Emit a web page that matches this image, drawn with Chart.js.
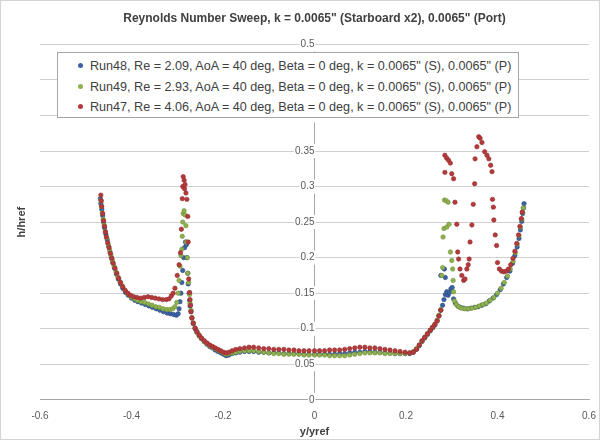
<!DOCTYPE html>
<html lang="en">
<head>
<meta charset="UTF-8">
<title>Reynolds Number Sweep</title>
<script src="https://cdn.jsdelivr.net/npm/chart.js@4.4.0/dist/chart.umd.min.js"></script>
<style>
    body { margin: 0; background: #fff; font-family: 'Liberation Sans', Arial, sans-serif; }
    .wrap { position: relative; width: 600px; height: 440px; box-sizing: border-box; border: 1px solid #d4d4d4; }
    #legendBox {
        position: absolute; left: 56px; top: 51px; width: 462px; height: 66px;
        box-sizing: border-box; border: 1px solid #a6a6a6; background: #fff;
        padding: 3px 0 0 20px; font-size: 12.6px; color: #404040;
    }
    #legendBox .item { height: 20.5px; line-height: 20px; white-space: nowrap; }
    #legendBox .dot { display: inline-block; width: 5px; height: 5px; border-radius: 50%; margin-right: 7px; vertical-align: 2px; }
</style>
</head>
<body>
<div class="wrap">
    <canvas id="chart" width="598" height="438"></canvas>
    <div id="legendBox"></div>
</div>
<script>
// axis ticks
const xTicks = [-0.6, -0.4, -0.2, 0, 0.2, 0.4, 0.6];
const yTicks = [0, 0.05, 0.1, 0.15, 0.2, 0.25, 0.3, 0.35, 0.4, 0.45, 0.5];

const seriesLabels = [
    'Run48, Re = 2.09, AoA = 40 deg, Beta = 0 deg, k = 0.0065" (S), 0.0065" (P)',
    'Run49, Re = 2.93, AoA = 40 deg, Beta = 0 deg, k = 0.0065" (S), 0.0065" (P)',
    'Run47, Re = 4.06, AoA = 40 deg, Beta = 0 deg, k = 0.0065" (S), 0.0065" (P)'
];

// Run48 (y/yref, h/href)
const run48 = [
    [-0.468,0.283],[-0.467,0.276],[-0.465,0.268],[-0.463,0.259],[-0.461,0.250],[-0.459,0.242],[-0.456,0.233],[-0.453,0.225],
    [-0.450,0.216],[-0.447,0.208],[-0.444,0.200],[-0.441,0.193],[-0.437,0.185],[-0.433,0.177],[-0.429,0.170],[-0.424,0.163],
    [-0.419,0.157],[-0.413,0.151],[-0.407,0.147],[-0.400,0.143],[-0.393,0.140],[-0.386,0.138],[-0.378,0.136],[-0.370,0.134],
    [-0.362,0.132],[-0.354,0.130],[-0.346,0.128],[-0.338,0.126],[-0.330,0.124],[-0.322,0.122],[-0.315,0.121],[-0.308,0.120],
    [-0.302,0.119],[-0.298,0.121],[-0.296,0.128],[-0.294,0.138],[-0.292,0.150],[-0.290,0.165],[-0.288,0.182],[-0.286,0.200],
    [-0.284,0.214],[-0.282,0.222],[-0.280,0.218],[-0.279,0.200],[-0.277,0.178],[-0.276,0.163],[-0.274,0.150],[-0.273,0.140],
    [-0.272,0.132],[-0.270,0.124],[-0.268,0.115],[-0.265,0.107],[-0.261,0.100],[-0.257,0.095],[-0.252,0.090],[-0.247,0.086],
    [-0.241,0.082],[-0.235,0.078],[-0.229,0.075],[-0.223,0.073],[-0.217,0.070],[-0.211,0.068],[-0.205,0.066],[-0.199,0.064],
    [-0.193,0.062],[-0.187,0.063],[-0.180,0.065],[-0.172,0.066],[-0.163,0.067],[-0.153,0.068],[-0.143,0.068],[-0.133,0.068],
    [-0.122,0.067],[-0.111,0.067],[-0.100,0.066],[-0.089,0.066],[-0.078,0.066],[-0.067,0.065],[-0.056,0.065],[-0.045,0.065],
    [-0.034,0.065],[-0.023,0.064],[-0.012,0.064],[0.000,0.064],[0.011,0.064],[0.022,0.064],[0.033,0.064],[0.044,0.064],
    [0.055,0.065],[0.066,0.065],[0.077,0.066],[0.088,0.067],[0.099,0.067],[0.110,0.068],[0.121,0.068],[0.132,0.067],
    [0.143,0.067],[0.154,0.066],[0.165,0.066],[0.176,0.065],[0.187,0.065],[0.198,0.065],[0.208,0.065],[0.216,0.067],
    [0.223,0.071],[0.229,0.076],[0.235,0.082],[0.241,0.087],[0.247,0.092],[0.253,0.097],[0.258,0.101],[0.263,0.105],
    [0.268,0.111],[0.272,0.118],[0.276,0.126],[0.280,0.133],[0.283,0.141],[0.286,0.148],[0.289,0.152],[0.292,0.147],
    [0.295,0.151],[0.298,0.156],[0.301,0.158],[0.276,0.175],[0.284,0.184],[0.286,0.172],
    [0.304,0.142],[0.308,0.136],[0.313,0.132],[0.319,0.130],[0.326,0.129],[0.334,0.128],[0.342,0.129],[0.350,0.130],
    [0.358,0.131],[0.366,0.133],[0.374,0.135],[0.382,0.139],[0.390,0.143],[0.398,0.148],[0.406,0.155],[0.413,0.163],
    [0.420,0.172],[0.427,0.181],[0.433,0.192],[0.438,0.203],[0.443,0.215],[0.447,0.227],[0.450,0.239],[0.453,0.251],
    [0.455,0.262],[0.457,0.270],[0.458,0.276]
];

// Run49
const run49 = [
    [-0.467,0.280],[-0.466,0.272],[-0.464,0.263],[-0.462,0.254],[-0.460,0.246],[-0.457,0.237],[-0.454,0.228],[-0.451,0.219],
    [-0.448,0.211],[-0.445,0.203],[-0.442,0.196],[-0.438,0.188],[-0.434,0.180],[-0.430,0.173],[-0.425,0.166],[-0.420,0.160],
    [-0.414,0.154],[-0.408,0.149],[-0.401,0.145],[-0.394,0.142],[-0.387,0.140],[-0.379,0.138],[-0.371,0.137],[-0.363,0.135],
    [-0.355,0.133],[-0.347,0.131],[-0.339,0.130],[-0.331,0.128],[-0.323,0.127],[-0.316,0.127],[-0.310,0.128],[-0.305,0.131],
    [-0.301,0.137],[-0.298,0.150],[-0.296,0.168],[-0.294,0.188],[-0.292,0.203],[-0.290,0.212],[-0.289,0.230],[-0.288,0.250],
    [-0.287,0.262],[-0.285,0.266],[-0.283,0.260],[-0.281,0.245],[-0.280,0.222],[-0.278,0.200],[-0.277,0.178],[-0.275,0.165],
    [-0.273,0.148],[-0.272,0.136],[-0.270,0.126],[-0.268,0.116],[-0.265,0.108],[-0.261,0.101],[-0.257,0.095],[-0.252,0.090],
    [-0.247,0.086],[-0.241,0.082],[-0.235,0.079],[-0.229,0.076],[-0.223,0.074],[-0.217,0.072],[-0.211,0.070],[-0.205,0.068],
    [-0.199,0.066],[-0.193,0.064],[-0.187,0.065],[-0.180,0.066],[-0.172,0.067],[-0.163,0.068],[-0.153,0.069],[-0.143,0.069],
    [-0.133,0.069],[-0.122,0.068],[-0.111,0.067],[-0.100,0.066],[-0.089,0.065],[-0.078,0.065],[-0.067,0.064],[-0.056,0.064],
    [-0.045,0.064],[-0.034,0.064],[-0.023,0.063],[-0.012,0.063],[0.000,0.063],[0.011,0.063],[0.022,0.063],[0.033,0.062],
    [0.044,0.062],[0.055,0.062],[0.066,0.062],[0.077,0.063],[0.088,0.064],[0.099,0.065],[0.110,0.066],[0.121,0.066],
    [0.132,0.066],[0.143,0.066],[0.154,0.065],[0.165,0.065],[0.176,0.065],[0.187,0.065],[0.198,0.065],[0.208,0.066],
    [0.216,0.068],[0.223,0.072],[0.229,0.077],[0.235,0.083],[0.241,0.088],[0.247,0.093],[0.253,0.098],[0.258,0.102],
    [0.263,0.106],[0.268,0.112],[0.272,0.119],[0.276,0.127],[0.278,0.175],[0.280,0.186],[0.281,0.229],[0.283,0.241],
    [0.284,0.281],[0.288,0.280],[0.292,0.278],[0.289,0.243],[0.294,0.247],[0.297,0.208],[0.300,0.196],[0.302,0.184],
    [0.303,0.168],[0.304,0.152],[0.306,0.139],[0.310,0.134],[0.315,0.131],[0.321,0.129],[0.328,0.128],[0.336,0.128],
    [0.344,0.129],[0.352,0.130],[0.360,0.132],[0.368,0.134],[0.376,0.136],[0.384,0.140],[0.392,0.144],[0.400,0.150],
    [0.408,0.157],[0.415,0.165],[0.422,0.174],[0.428,0.184],[0.434,0.195],[0.439,0.207],[0.443,0.219],[0.447,0.231],
    [0.450,0.243],[0.453,0.254],[0.455,0.264],[0.456,0.270]
];

// Run47
const run47 = [
    [-0.467,0.288],[-0.466,0.280],[-0.465,0.272],[-0.463,0.262],[-0.461,0.252],[-0.459,0.244],[-0.457,0.236],[-0.455,0.229],
    [-0.452,0.221],[-0.449,0.214],[-0.446,0.206],[-0.443,0.199],[-0.440,0.192],[-0.436,0.185],[-0.432,0.178],[-0.428,0.171],
    [-0.424,0.165],[-0.419,0.159],[-0.414,0.154],[-0.408,0.150],[-0.402,0.147],[-0.395,0.145],[-0.388,0.144],[-0.380,0.143],
    [-0.372,0.144],[-0.364,0.145],[-0.356,0.144],[-0.348,0.143],[-0.340,0.142],[-0.332,0.141],[-0.324,0.141],[-0.318,0.142],
    [-0.313,0.146],[-0.309,0.150],[-0.305,0.157],[-0.300,0.175],[-0.296,0.190],[-0.293,0.207],[-0.291,0.240],[-0.289,0.283],
    [-0.288,0.300],[-0.287,0.314],[-0.285,0.309],[-0.284,0.297],[-0.283,0.303],[-0.281,0.291],[-0.279,0.282],[-0.277,0.258],
    [-0.276,0.222],[-0.275,0.170],[-0.273,0.151],[-0.272,0.141],[-0.271,0.133],[-0.270,0.124],[-0.268,0.115],[-0.265,0.108],
    [-0.261,0.101],[-0.257,0.096],[-0.252,0.091],[-0.247,0.087],[-0.241,0.083],[-0.235,0.080],[-0.229,0.077],[-0.223,0.075],
    [-0.217,0.073],[-0.211,0.071],[-0.205,0.069],[-0.199,0.067],[-0.193,0.066],[-0.187,0.067],[-0.180,0.069],[-0.172,0.071],
    [-0.163,0.072],[-0.153,0.073],[-0.143,0.074],[-0.133,0.074],[-0.122,0.073],[-0.111,0.072],[-0.100,0.072],[-0.089,0.071],
    [-0.078,0.071],[-0.067,0.071],[-0.056,0.070],[-0.045,0.070],[-0.034,0.069],[-0.023,0.069],[-0.012,0.069],[0.000,0.069],
    [0.011,0.069],[0.022,0.069],[0.033,0.070],[0.044,0.070],[0.055,0.070],[0.066,0.071],[0.077,0.072],[0.088,0.073],
    [0.099,0.074],[0.110,0.074],[0.121,0.073],[0.132,0.073],[0.143,0.072],[0.154,0.071],[0.165,0.070],[0.176,0.069],
    [0.187,0.068],[0.198,0.067],[0.208,0.066],[0.216,0.067],[0.223,0.071],[0.229,0.077],[0.235,0.083],[0.241,0.088],
    [0.247,0.093],[0.253,0.098],[0.258,0.102],[0.263,0.106],[0.268,0.111],[0.272,0.118],[0.276,0.126],
    [0.285,0.344],[0.289,0.340],[0.293,0.337],[0.297,0.333],[0.285,0.320],[0.300,0.318],[0.304,0.311],[0.307,0.278],
    [0.311,0.247],[0.313,0.208],[0.315,0.198],[0.318,0.184],[0.322,0.175],[0.326,0.168],[0.329,0.170],[0.333,0.184],
    [0.336,0.190],[0.338,0.198],[0.340,0.222],[0.344,0.246],[0.347,0.275],[0.350,0.304],[0.351,0.339],[0.355,0.356],
    [0.359,0.370],[0.362,0.368],[0.366,0.362],[0.372,0.349],[0.377,0.344],[0.381,0.339],[0.385,0.330],[0.388,0.321],
    [0.389,0.282],[0.391,0.271],[0.392,0.253],[0.395,0.232],[0.398,0.217],[0.400,0.193],[0.404,0.184],[0.409,0.181],
    [0.414,0.180],[0.419,0.181],[0.424,0.184],[0.429,0.190],[0.434,0.199],[0.438,0.209],[0.442,0.220],[0.446,0.232],
    [0.449,0.244],[0.452,0.255],[0.454,0.264]
];

const seriesColors = ['#3d62a4', '#8fb14e', '#b63a3b'];
const seriesBorders = ['#2a4a80', '#6e8f35', '#8e2a2b'];

function toPoints(arr) {
    return arr.map(p => ({ x: p[0], y: p[1] }));
}

// h/href title on the left, outside the centred y axis
const sideTitle = {
    id: 'sideTitle',
    afterDraw(chart) {
        const c = chart.ctx;
        c.save();
        c.fillStyle = '#404040';
        c.font = 'bold 11px "Liberation Sans", Arial, sans-serif';
        c.translate(21, (chart.chartArea.top + chart.chartArea.bottom) / 2);
        c.rotate(-Math.PI / 2);
        c.textAlign = 'center';
        c.textBaseline = 'middle';
        c.fillText('h/href', 0, 0);
        c.restore();
    }
};

const datasets = [run48, run49, run47].map((d, i) => ({
    label: seriesLabels[i],
    data: toPoints(d),
    backgroundColor: seriesColors[i],
    borderColor: seriesBorders[i],
    borderWidth: 0.6,
    pointRadius: 2.2,
    order: 3 - i
}));

const chart = new Chart(document.getElementById('chart'), {
    type: 'scatter',
    data: { datasets: datasets },
    options: {
        responsive: false,
        animation: false,
        layout: { padding: { left: 39, right: 10, top: 0, bottom: 0 } },
        scales: {
            x: {
                type: 'linear',
                min: -0.6, max: 0.6,
                afterBuildTicks: s => { s.ticks = xTicks.map(v => ({ value: v })); },
                grid: { display: false },
                border: { display: true, color: '#a6a6a6' },
                ticks: { color: '#595959', font: { size: 10 }, padding: 2, callback: v => String(v) },
                title: { display: true, text: 'y/yref', color: '#404040', font: { size: 11, weight: 'bold' }, padding: { top: 2, bottom: 0 } }
            },
            y: {
                type: 'linear',
                position: { x: 0 },
                min: 0, max: 0.5,
                afterBuildTicks: s => { s.ticks = yTicks.map(v => ({ value: v })); },
                grid: { color: '#d0d0d0', tickLength: 4 },
                border: { display: true, color: '#a6a6a6' },
                ticks: {
                    color: '#595959', font: { size: 10 }, padding: 2,
                    callback: v => String(v),
                    showLabelBackdrop: true, backdropColor: '#fff', backdropPadding: 1
                }
            }
        },
        plugins: {
            legend: { display: false },
            tooltip: { enabled: false },
            title: {
                display: true,
                text: 'Reynolds Number Sweep, k = 0.0065" (Starboard x2), 0.0065" (Port)',
                color: '#404040',
                font: { size: 12, weight: 'bold' },
                padding: { top: 10, bottom: 19 }
            }
        }
    },
    plugins: [sideTitle]
});

// legend box built from the datasets
const box = document.getElementById('legendBox');
chart.data.datasets.forEach(ds => {
    const row = document.createElement('div');
    row.className = 'item';
    const dot = document.createElement('span');
    dot.className = 'dot';
    dot.style.background = ds.backgroundColor;
    row.appendChild(dot);
    row.appendChild(document.createTextNode(ds.label));
    box.appendChild(row);
});
</script>
</body>
</html>
